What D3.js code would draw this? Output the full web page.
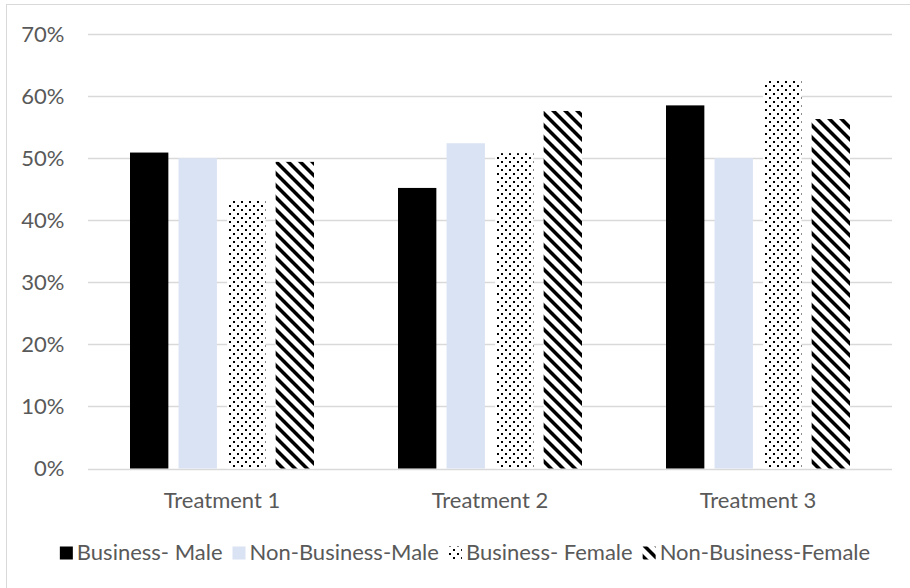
<!DOCTYPE html>
<html>
<head>
<meta charset="utf-8">
<script src="https://cdn.jsdelivr.net/npm/d3@7"></script>
<style>
  html, body { margin: 0; padding: 0; background: #fff; }
  svg { display: block; }
  text { font-family: Lato, "Open Sans", sans-serif; fill: #595959; }
</style>
</head>
<body>
<svg id="chart" width="910" height="588"></svg>
<script>
const categories = ["Treatment 1", "Treatment 2", "Treatment 3"];
const seriesNames = ["Business- Male", "Non-Business-Male", "Business- Female", "Non-Business-Female"];
const businessMale = [0.509, 0.452, 0.585];
const nonBusinessMale = [0.500, 0.524, 0.500];
const businessFemale = [0.433, 0.508, 0.626];
const nonBusinessFemale = [0.494, 0.576, 0.563];
const yTicks = [0, 0.1, 0.2, 0.3, 0.4, 0.5, 0.6, 0.7];

const seriesValues = [businessMale, nonBusinessMale, businessFemale, nonBusinessFemale];
const fills = ["#000000", "#dae3f3", "url(#dots)", "url(#stripes)"];

const svg = d3.select("#chart");
const m = { left: 88, right: 892, top: 34, bottom: 468.5 };
const fontSize = 22;

// patterns
const defs = svg.append("defs");
const dots = defs.append("pattern").attr("id", "dots")
  .attr("patternUnits", "userSpaceOnUse").attr("width", 8).attr("height", 8);
dots.append("rect").attr("width", 8).attr("height", 8).attr("fill", "#fff");
dots.append("rect").attr("x", 1).attr("y", 1).attr("width", 2).attr("height", 2).attr("fill", "#000");
dots.append("rect").attr("x", 5).attr("y", 5).attr("width", 2).attr("height", 2).attr("fill", "#000");

const stripes = defs.append("pattern").attr("id", "stripes")
  .attr("patternUnits", "userSpaceOnUse").attr("width", 12).attr("height", 12);
stripes.append("rect").attr("width", 12).attr("height", 12).attr("fill", "#fff");
stripes.append("path").attr("d", "M0,0 L5,0 L12,7 L12,12 Z M0,7 L0,12 L5,12 Z").attr("fill", "#000");

// chart border
svg.append("rect").attr("x", 6.5).attr("y", 4.5).attr("width", 910).attr("height", 590)
  .attr("fill", "none").attr("stroke", "#d9d9d9").attr("stroke-width", 1);

const x0 = d3.scaleBand().domain(categories).range([m.left, m.right]).paddingInner(0).paddingOuter(0);
const groupPad = 42;
const x1 = d3.scaleBand().domain(seriesNames).range([groupPad, x0.bandwidth() - groupPad]).paddingInner(0.21).paddingOuter(0);
const y = d3.scaleLinear().domain([0, 0.7]).range([m.bottom, m.top]);

// gridlines
svg.append("g").selectAll("line").data(yTicks).join("line")
  .attr("x1", m.left).attr("x2", m.right)
  .attr("y1", d => Math.round(y(d)) + 0.5).attr("y2", d => Math.round(y(d)) + 0.5)
  .attr("stroke", "#d9d9d9").attr("stroke-width", 1.3);

// y axis labels
const yAxis = d3.axisLeft(y).tickValues(yTicks).tickFormat(d3.format(".0%")).tickSize(0).tickPadding(0);
const gy = svg.append("g").attr("transform", "translate(64.5,0)").call(yAxis);
gy.select(".domain").remove();
gy.selectAll("text").style("font-family", "Lato, sans-serif").style("font-size", fontSize + "px").attr("fill", "#595959");

// bars
const groups = svg.append("g").selectAll("g").data(categories).join("g")
  .attr("transform", c => `translate(${x0(c)},0)`);
groups.selectAll("rect").data((c, ci) => seriesNames.map((s, si) => ({ s, si, v: seriesValues[si][ci] })))
  .join("rect")
  .attr("x", d => x1(d.s))
  .attr("width", x1.bandwidth())
  .attr("y", d => y(d.v))
  .attr("height", d => y(0) - y(d.v))
  .attr("fill", d => fills[d.si]);

// x axis labels
const xAxis = d3.axisBottom(x0).tickSize(0).tickPadding(0);
const gx = svg.append("g").attr("transform", `translate(0,${m.bottom})`).call(xAxis);
gx.select(".domain").remove();
gx.selectAll("text").attr("dy", null).attr("y", 39).style("font-family", "Lato, sans-serif")
  .style("font-size", fontSize + "px").attr("fill", "#595959");

// legend
const legend = svg.append("g");
const box = 13, gapText = 4, gapItem = 10;
const items = legend.selectAll("g").data(seriesNames).join("g");
items.append("rect").attr("width", box).attr("height", box).attr("y", 546.5)
  .attr("fill", (d, i) => fills[i]);
items.append("text").text(d => d).attr("y", 560).style("font-size", fontSize + "px");
let widths = [];
items.select("text").each(function () { widths.push(this.getComputedTextLength()); });
const total = d3.sum(widths) + seriesNames.length * (box + gapText) + (seriesNames.length - 1) * gapItem;
let cx = 465 - total / 2;
items.each(function (d, i) {
  const g = d3.select(this);
  g.select("rect").attr("x", cx);
  g.select("text").attr("x", cx + box + gapText);
  cx += box + gapText + widths[i] + gapItem;
});
</script>
</body>
</html>
